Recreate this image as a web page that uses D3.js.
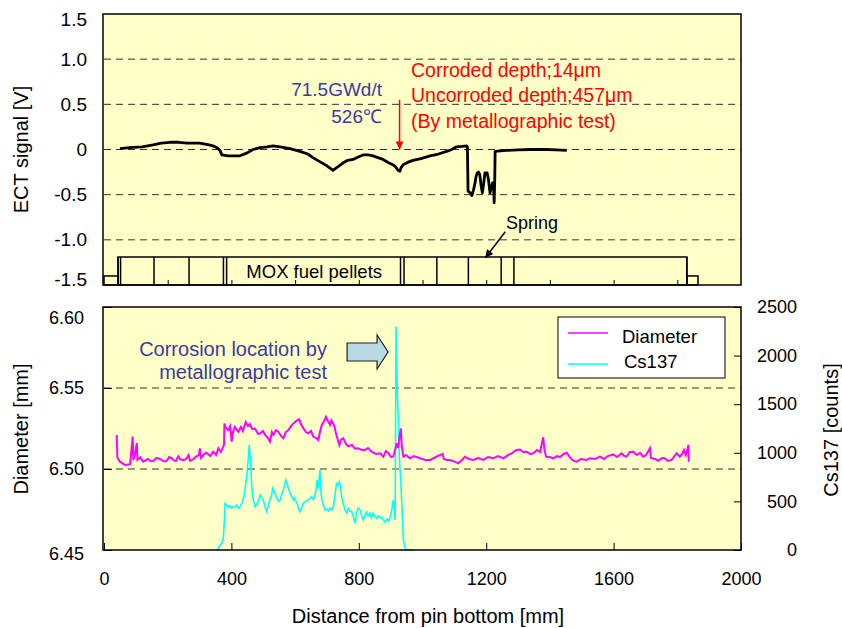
<!DOCTYPE html>
<html>
<head>
<meta charset="utf-8">
<script src="https://cdn.jsdelivr.net/npm/d3@7"></script>
<style>
  body { margin: 0; background: #fff; }
  svg text { font-family: "Liberation Sans", Arial, sans-serif; }
</style>
</head>
<body>
<div id="chart"></div>
<script>
// Tick values
const ectTicks = [-1.5, -1.0, -0.5, 0, 0.5, 1.0, 1.5];
const ectGrid = [-1.0, -0.5, 0, 0.5, 1.0];
const diaTicks = [6.45, 6.50, 6.55, 6.60];
const diaGrid = [6.50, 6.55];
const csTicks = [0, 500, 1000, 1500, 2000, 2500];
const distTicks = [0, 400, 800, 1200, 1600, 2000];
const ectMinorTicks = [200, 400, 600, 800, 1000, 1200, 1400, 1600, 1800];

// Fuel column layout along the pin [mm]
const pelletEdges = [44, 52, 157, 267, 375, 385, 931, 942, 1045, 1144, 1247, 1287, 1830];
const endPlugs = [[0, 44], [1830, 1865]];

// ECT signal [mm, V]
const ectSignal = [
  [50, 0.01], [80, 0.02], [120, 0.03], [154, 0.05], [180, 0.07], [207, 0.08], [235, 0.08],
  [261, 0.07], [301, 0.07], [330, 0.05], [342, 0.04], [355, 0.02], [364, -0.01], [370, -0.06],
  [390, -0.07], [405, -0.07], [427, -0.07], [448, -0.04], [468, 0], [490, 0.02], [512, 0.03],
  [530, 0.04], [553, 0.03], [584, 0.01], [615, -0.02], [640, -0.05], [656, -0.09], [680, -0.14],
  [700, -0.18], [719, -0.23], [735, -0.19], [750, -0.15], [765, -0.12], [782, -0.11], [800, -0.08],
  [813, -0.06], [830, -0.06], [845, -0.07], [860, -0.09], [876, -0.11], [895, -0.15], [907, -0.17],
  [915, -0.19], [923, -0.23], [929, -0.24], [933, -0.2], [939, -0.17], [955, -0.14], [970, -0.12],
  [995, -0.10], [1024, -0.07], [1050, -0.05], [1076, -0.02], [1092, 0], [1107, 0.03], [1125, 0.035],
  [1138, 0.04], [1141, 0.03], [1143, -0.46], [1150, -0.48], [1155, -0.51], [1160, -0.45],
  [1165, -0.37], [1168, -0.3], [1172, -0.26], [1176, -0.25], [1180, -0.28], [1184, -0.4],
  [1188, -0.48], [1192, -0.38], [1196, -0.26], [1203, -0.26], [1207, -0.33], [1212, -0.48],
  [1216, -0.42], [1220, -0.37], [1223, -0.4], [1225, -0.59], [1227, -0.3], [1228, -0.02],
  [1245, -0.015], [1264, -0.01], [1300, -0.005], [1338, 0], [1390, 0], [1420, -0.005], [1453, -0.01]
];

// Outer diameter [mm, mm]
const diameter = [
  [40, 6.521], [42, 6.507], [50, 6.5045], [66, 6.5025], [82, 6.503], [90, 6.520], [92, 6.5056],
  [97, 6.509], [103, 6.516], [105, 6.5056], [114, 6.5072], [123, 6.5045], [138, 6.5062], [147, 6.5048],
  [155, 6.505], [165, 6.5068], [176, 6.5062], [187, 6.5048], [197, 6.505], [205, 6.5075], [213, 6.5066],
  [220, 6.5052], [226, 6.505], [233, 6.5078], [239, 6.506], [250, 6.5055], [260, 6.5066], [265, 6.5085],
  [270, 6.505], [280, 6.506], [290, 6.5078], [298, 6.5086], [301, 6.5128], [305, 6.5068], [314, 6.5092],
  [322, 6.510], [333, 6.508], [343, 6.5107], [352, 6.5086], [359, 6.5128], [367, 6.5105], [375, 6.514],
  [377, 6.5154], [378, 6.528], [383, 6.5253], [390, 6.524], [396, 6.5265], [401, 6.5169], [405, 6.5228],
  [411, 6.526], [422, 6.523], [430, 6.526], [436, 6.5235], [445, 6.529], [452, 6.5265], [458, 6.5278],
  [465, 6.5247], [474, 6.525], [484, 6.5216], [490, 6.522], [499, 6.5235], [506, 6.521], [515, 6.5191],
  [521, 6.5169], [527, 6.5228], [532, 6.521], [540, 6.524], [547, 6.523], [556, 6.5204], [563, 6.519],
  [571, 6.5228], [579, 6.524], [587, 6.5265], [594, 6.528], [603, 6.5296], [613, 6.5307], [618, 6.5278],
  [626, 6.5251], [634, 6.5228], [641, 6.522], [650, 6.5235], [657, 6.52], [666, 6.5191], [673, 6.5179],
  [678, 6.5228], [684, 6.5272], [691, 6.5296], [697, 6.5323], [703, 6.5296], [710, 6.5272], [714, 6.530],
  [720, 6.528], [725, 6.5253], [728, 6.522], [739, 6.5148], [744, 6.518], [751, 6.519], [760, 6.5154],
  [767, 6.514], [779, 6.5148], [788, 6.5125], [798, 6.5128], [810, 6.5117], [819, 6.5117], [829, 6.513],
  [840, 6.5107], [854, 6.5093], [867, 6.5097], [877, 6.5076], [885, 6.511], [893, 6.5097], [901, 6.5074],
  [908, 6.5076], [914, 6.5117], [919, 6.5159], [923, 6.513], [932, 6.5251], [935, 6.514], [940, 6.5076],
  [948, 6.5086], [961, 6.5066], [973, 6.508], [992, 6.5066], [1008, 6.5056], [1024, 6.5056], [1042, 6.5074],
  [1063, 6.5093], [1067, 6.5062], [1076, 6.5056], [1086, 6.5056], [1096, 6.505], [1112, 6.5035],
  [1124, 6.5056], [1133, 6.5076], [1146, 6.5062], [1160, 6.5056], [1174, 6.5068], [1191, 6.5056],
  [1206, 6.5074], [1222, 6.5066], [1237, 6.508], [1254, 6.5066], [1268, 6.5086], [1280, 6.5097],
  [1294, 6.5117], [1306, 6.512], [1316, 6.5105], [1327, 6.5107], [1338, 6.5093], [1348, 6.5097],
  [1360, 6.5117], [1369, 6.5105], [1379, 6.5196], [1383, 6.5117], [1388, 6.5076], [1400, 6.5074],
  [1411, 6.5066], [1422, 6.508], [1432, 6.5074], [1443, 6.5093], [1453, 6.510], [1460, 6.508],
  [1468, 6.506], [1476, 6.505], [1484, 6.5045], [1498, 6.5062], [1515, 6.5056], [1526, 6.5066],
  [1542, 6.5062], [1557, 6.5076], [1570, 6.5062], [1582, 6.508], [1599, 6.509], [1611, 6.5074],
  [1625, 6.5097], [1633, 6.508], [1641, 6.5076], [1651, 6.5105], [1662, 6.5107], [1673, 6.5086],
  [1683, 6.510], [1693, 6.5076], [1702, 6.5086], [1714, 6.5128], [1717, 6.5068], [1730, 6.5062],
  [1740, 6.5051], [1752, 6.5068], [1761, 6.5066], [1770, 6.505], [1782, 6.5056], [1789, 6.5074],
  [1798, 6.5097], [1808, 6.5076], [1815, 6.5093], [1821, 6.5117], [1827, 6.5086], [1835, 6.5148],
  [1836, 6.5045]
];

// Cs137 gamma scan [mm, counts]
const cs137 = [
  [350, 0], [356, 0], [360, 20], [365, 50], [370, 69], [375, 137], [378, 300], [380, 480], [385, 463],
  [390, 440], [395, 455], [401, 429], [406, 450], [411, 440], [417, 463], [422, 430], [427, 445],
  [431, 470], [435, 497], [440, 560], [443, 635], [448, 754], [452, 900], [456, 1080], [459, 950],
  [461, 857], [464, 635], [469, 514], [474, 445], [479, 470], [484, 497], [490, 566], [495, 540],
  [500, 514], [505, 450], [511, 394], [516, 460], [521, 514], [526, 560], [530, 635], [537, 583],
  [542, 540], [548, 500], [553, 514], [558, 570], [563, 617], [567, 660], [571, 720], [575, 680],
  [579, 635], [584, 590], [589, 548], [594, 520], [597, 540], [601, 500], [605, 497], [610, 430],
  [615, 394], [620, 430], [626, 480], [633, 500], [641, 514], [646, 530], [652, 548], [657, 520],
  [662, 560], [666, 620], [669, 720], [673, 635], [678, 823], [681, 600], [684, 514], [689, 460],
  [694, 411], [700, 420], [705, 400], [710, 430], [715, 410], [720, 440], [725, 560], [730, 686],
  [735, 670], [739, 703], [743, 640], [746, 560], [751, 480], [757, 411], [762, 380], [767, 430],
  [772, 400], [778, 394], [783, 340], [788, 274], [793, 380], [798, 430], [804, 411], [809, 350],
  [814, 309], [819, 360], [824, 390], [829, 350], [835, 380], [840, 330], [845, 377], [850, 350],
  [856, 326], [861, 350], [866, 330], [872, 340], [877, 310], [881, 290], [885, 298], [890, 320],
  [894, 300], [898, 326], [903, 400], [908, 514], [912, 420], [914, 309], [917, 2297], [921, 1612],
  [924, 1337], [927, 1000], [929, 857], [932, 700], [935, 480], [938, 250], [940, 103], [944, 40],
  [948, 0], [970, 0]
];

const W = 842;
const H = 628;
const FONT = '"Liberation Sans", Arial, sans-serif';
const BG = '#ffffc8';
const BLUE = '#3c3ca0';

const svg = d3.select('#chart').append('svg')
  .attr('width', W)
  .attr('height', H);

// Scales
const x = d3.scaleLinear().domain([0, 2000]).range([104, 741]);
const yEct = d3.scaleLinear().domain([-1.5, 1.5]).range([285, 14]);
const yDia = d3.scaleLinear().domain([6.45, 6.60]).range([550, 307]);
const yCs = d3.scaleLinear().domain([0, 2500]).range([550, 307]);

function styleAxis(g, size) {
  g.select('.domain').remove();
  g.selectAll('line').attr('stroke', '#000').attr('stroke-width', 1);
  g.selectAll('text').attr('font-size', size).attr('font-family', FONT).attr('fill', '#000');
}

function dashed(g, vals, yScale) {
  g.selectAll(null)
    .data(vals)
    .enter()
    .append('line')
    .attr('x1', x.range()[0])
    .attr('x2', x.range()[1])
    .attr('y1', d => yScale(d))
    .attr('y2', d => yScale(d))
    .attr('stroke', '#333')
    .attr('stroke-width', 1)
    .attr('stroke-dasharray', '7,5');
}

// ---------- Top panel: ECT ----------
const topPanel = svg.append('g');
topPanel.append('rect')
  .attr('x', 103).attr('y', yEct(1.5))
  .attr('width', 638).attr('height', yEct(-1.5) - yEct(1.5))
  .attr('fill', BG);

dashed(topPanel, ectGrid, yEct);

// fuel column sketch
topPanel.append('rect')
  .attr('x', x(pelletEdges[0]))
  .attr('y', yEct(-1.19))
  .attr('width', x(pelletEdges[pelletEdges.length - 1]) - x(pelletEdges[0]))
  .attr('height', yEct(-1.5) - yEct(-1.19))
  .attr('fill', 'none')
  .attr('stroke', '#000')
  .attr('stroke-width', 1.5);

topPanel.selectAll('.edge')
  .data(pelletEdges)
  .enter()
  .append('line')
  .attr('class', 'edge')
  .attr('x1', d => x(d)).attr('x2', d => x(d))
  .attr('y1', yEct(-1.19)).attr('y2', yEct(-1.5))
  .attr('stroke', '#000')
  .attr('stroke-width', 1.5);

topPanel.selectAll('.plug')
  .data(endPlugs)
  .enter()
  .append('rect')
  .attr('class', 'plug')
  .attr('x', d => x(d[0]))
  .attr('y', yEct(-1.40))
  .attr('width', d => x(d[1]) - x(d[0]))
  .attr('height', yEct(-1.5) - yEct(-1.40))
  .attr('fill', 'none')
  .attr('stroke', '#000')
  .attr('stroke-width', 1.5);

topPanel.append('text')
  .attr('x', x(660)).attr('y', 278)
  .attr('text-anchor', 'middle')
  .attr('font-size', 18.5)
  .text('MOX fuel pellets');

// minor ticks along the bottom
topPanel.append('g')
  .attr('transform', `translate(0,${yEct(-1.5)})`)
  .call(d3.axisBottom(x).tickValues(ectMinorTicks).tickSizeInner(-5).tickSizeOuter(0).tickFormat(''))
  .call(g => styleAxis(g, 18));

// signal
const ectLine = d3.line().x(d => x(d[0])).y(d => yEct(d[1]));
topPanel.append('path')
  .datum(ectSignal)
  .attr('d', ectLine)
  .attr('fill', 'none')
  .attr('stroke', '#000')
  .attr('stroke-width', 2.8)
  .attr('stroke-linejoin', 'round');

topPanel.append('rect')
  .attr('x', 103).attr('y', yEct(1.5))
  .attr('width', 638).attr('height', yEct(-1.5) - yEct(1.5))
  .attr('fill', 'none')
  .attr('stroke', '#000')
  .attr('stroke-width', 1.5);

topPanel.append('g')
  .attr('transform', `translate(${x(0)},0)`)
  .call(d3.axisLeft(yEct).tickValues(ectTicks).tickSize(0).tickPadding(17)
    .tickFormat(d => d === 0 ? '0' : d.toFixed(1)))
  .call(g => styleAxis(g, 19))
  .call(g => g.selectAll('.tick text')
    .attr('dy', d => d === 1.5 ? '0.62em' : d === -1.5 ? '0.05em' : '0.32em'));

topPanel.append('text')
  .attr('transform', `translate(28,${yEct(0)}) rotate(-90)`)
  .attr('text-anchor', 'middle')
  .attr('font-size', 20)
  .text('ECT signal [V]');

// annotations
const ann = topPanel.append('g');
ann.append('text')
  .attr('x', 382).attr('y', 95.5)
  .attr('text-anchor', 'end')
  .attr('font-size', 19)
  .attr('fill', BLUE)
  .text('71.5GWd/t');
ann.append('text')
  .attr('x', 382).attr('y', 123)
  .attr('text-anchor', 'end')
  .attr('font-size', 19)
  .attr('fill', BLUE)
  .text('526℃');

const redLines = ['Corroded depth;14μm', 'Uncorroded depth;457μm', '(By metallographic test)'];
ann.selectAll('.red')
  .data(redLines)
  .enter()
  .append('text')
  .attr('class', 'red')
  .attr('x', 411)
  .attr('y', (d, i) => 76.5 + i * 25.5)
  .attr('font-size', 19.5)
  .attr('fill', '#ff0000')
  .text(d => d);

const defs = svg.append('defs');
defs.append('marker')
  .attr('id', 'redHead')
  .attr('viewBox', '0 0 10 10')
  .attr('refX', 10).attr('refY', 5)
  .attr('markerWidth', 12).attr('markerHeight', 8)
  .attr('markerUnits', 'userSpaceOnUse')
  .attr('orient', 'auto')
  .append('path').attr('d', 'M0,0L10,5L0,10Z').attr('fill', '#ff0000');
defs.append('marker')
  .attr('id', 'blackHead')
  .attr('viewBox', '0 0 10 10')
  .attr('refX', 10).attr('refY', 5)
  .attr('markerWidth', 11).attr('markerHeight', 8)
  .attr('markerUnits', 'userSpaceOnUse')
  .attr('orient', 'auto')
  .append('path').attr('d', 'M0,0L10,5L0,10Z').attr('fill', '#000');

ann.append('line')
  .attr('x1', x(928)).attr('x2', x(928))
  .attr('y1', yEct(0.55)).attr('y2', yEct(0))
  .attr('stroke', '#ff0000')
  .attr('stroke-width', 1.5)
  .attr('marker-end', 'url(#redHead)');

ann.append('text')
  .attr('x', 506).attr('y', 229)
  .attr('font-size', 18)
  .text('Spring');
ann.append('line')
  .attr('x1', x(1260)).attr('y1', yEct(-0.91))
  .attr('x2', x(1197)).attr('y2', yEct(-1.2))
  .attr('stroke', '#000')
  .attr('stroke-width', 1.5)
  .attr('marker-end', 'url(#blackHead)');

// ---------- Bottom panel: diameter + Cs137 ----------
const botPanel = svg.append('g');
botPanel.append('rect')
  .attr('x', 103).attr('y', yDia(6.60))
  .attr('width', 638).attr('height', yDia(6.45) - yDia(6.60))
  .attr('fill', BG);

dashed(botPanel, diaGrid, yDia);

const diaLine = d3.line().x(d => x(d[0])).y(d => yDia(d[1]));
const csLine = d3.line().x(d => x(d[0])).y(d => yCs(d[1]));

botPanel.append('path')
  .datum(cs137)
  .attr('d', csLine)
  .attr('fill', 'none')
  .attr('stroke', '#00ffff')
  .attr('stroke-width', 1.6);

botPanel.append('path')
  .datum(diameter)
  .attr('d', diaLine)
  .attr('fill', 'none')
  .attr('stroke', '#ff00ff')
  .attr('stroke-width', 2);

botPanel.append('rect')
  .attr('x', 103).attr('y', yDia(6.60))
  .attr('width', 638).attr('height', yDia(6.45) - yDia(6.60))
  .attr('fill', 'none')
  .attr('stroke', '#000')
  .attr('stroke-width', 1.5);

botPanel.append('g')
  .attr('transform', `translate(${x(0)},0)`)
  .call(d3.axisLeft(yDia).tickValues(diaTicks).tickSizeInner(-8).tickSizeOuter(0).tickPadding(20)
    .tickFormat(d => d.toFixed(2)))
  .call(g => styleAxis(g, 18))
  .call(g => g.selectAll('.tick text')
    .attr('dy', d => d === 6.60 ? '0.92em' : d === 6.45 ? '0.55em' : '0.32em'));

botPanel.append('g')
  .attr('transform', `translate(${x(2000)},0)`)
  .call(d3.axisRight(yCs).tickValues(csTicks).tickSizeInner(-7).tickSizeOuter(0).tickFormat(d => String(d)))
  .call(g => styleAxis(g, 18))
  .call(g => g.selectAll('.tick text').attr('x', 56).attr('text-anchor', 'end'));

botPanel.append('g')
  .attr('transform', `translate(0,${yDia(6.45)})`)
  .call(d3.axisBottom(x).tickValues(distTicks).tickSizeInner(-7).tickSizeOuter(0).tickPadding(22)
    .tickFormat(d => String(d)))
  .call(g => styleAxis(g, 18));

botPanel.append('text')
  .attr('transform', `translate(28,429) rotate(-90)`)
  .attr('text-anchor', 'middle')
  .attr('font-size', 20)
  .text('Diameter [mm]');

botPanel.append('text')
  .attr('transform', `translate(838,430) rotate(-90)`)
  .attr('text-anchor', 'middle')
  .attr('font-size', 20)
  .text('Cs137 [counts]');

svg.append('text')
  .attr('x', 428).attr('y', 623)
  .attr('text-anchor', 'middle')
  .attr('font-size', 20)
  .text('Distance from pin bottom [mm]');

// corrosion location call-out
botPanel.append('text')
  .attr('x', 327).attr('y', 355.5)
  .attr('text-anchor', 'end')
  .attr('font-size', 20)
  .attr('fill', BLUE)
  .text('Corrosion location by');
botPanel.append('text')
  .attr('x', 327).attr('y', 379)
  .attr('text-anchor', 'end')
  .attr('font-size', 20)
  .attr('fill', BLUE)
  .text('metallographic test');

const tipX = x(917) - 8;
const tipY = 352;
botPanel.append('path')
  .attr('d', `M${tipX - 41},${tipY - 9}H${tipX - 11}V${tipY - 17}L${tipX},${tipY}L${tipX - 11},${tipY + 17}V${tipY + 9}H${tipX - 41}Z`)
  .attr('fill', '#b8dae2')
  .attr('stroke', '#222')
  .attr('stroke-width', 1.2);

// legend
const leg = botPanel.append('g').attr('transform', 'translate(558,317)');
leg.append('rect')
  .attr('width', 167).attr('height', 61)
  .attr('fill', '#fff')
  .attr('stroke', '#000')
  .attr('stroke-width', 1);
const legendItems = [
  { name: 'Diameter', color: '#ff00ff', dx: 0 },
  { name: 'Cs137', color: '#00ffff', dx: 2 }
];
legendItems.forEach((item, i) => {
  const yy = 16 + i * 31;
  leg.append('line')
    .attr('x1', 10).attr('x2', 50)
    .attr('y1', yy).attr('y2', yy)
    .attr('stroke', item.color)
    .attr('stroke-width', 1.5);
  leg.append('text')
    .attr('x', 64 + item.dx).attr('y', yy + (i === 0 ? 10 : 4))
    .attr('font-size', 18.5)
    .text(item.name);
});
</script>
</body>
</html>
